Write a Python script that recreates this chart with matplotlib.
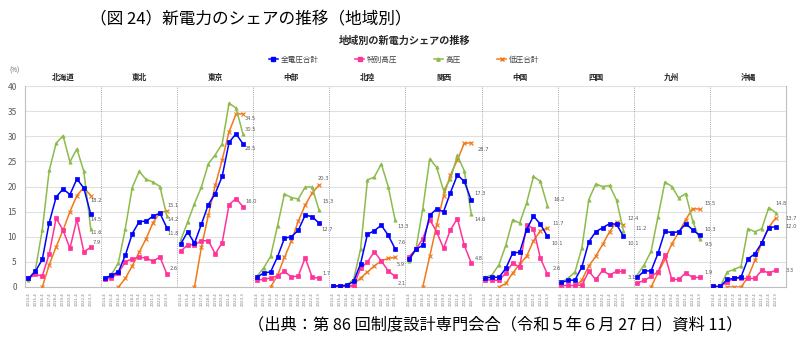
import numpy as np
import matplotlib
matplotlib.use("Agg")
import matplotlib.pyplot as plt
from matplotlib.lines import Line2D

plt.rcParams['font.family'] = ['Noto Sans CJK JP', 'DejaVu Sans']

nan = np.nan

regions = ['北海道', '東北', '東京', '中部', '北陸', '関西', '中国', '四国', '九州', '沖縄']
periods = ['2014.4', '2015.4', '2016.4', '2017.4', '2018.4',
           '2019.4', '2020.4', '2021.4', '2022.4', '2023.3']

series_names = ['全電圧合計', '特別高圧', '高圧', '低圧合計']

total = [
    [1.7, 3.1, 5.5, 12.8, 17.9, 19.5, 18.4, 21.5, 19.7, 14.5],
    [1.7, 2.3, 3.0, 6.3, 10.6, 13.0, 13.1, 14.1, 14.7, 11.8],
    [8.5, 11.0, 8.7, 12.5, 16.4, 18.6, 22.0, 28.8, 30.5, 28.5],
    [1.9, 2.8, 3.0, 6.0, 9.7, 10.0, 11.3, 14.3, 14.0, 12.7],
    [0.2, 0.2, 0.3, 1.1, 4.6, 10.5, 11.2, 12.3, 10.3, 7.6],
    [5.5, 7.5, 8.3, 14.3, 15.5, 15.0, 18.8, 22.3, 21.0, 17.3],
    [1.7, 2.0, 1.9, 3.7, 6.8, 6.9, 11.4, 14.1, 12.5, 10.1],
    [0.9, 1.3, 1.4, 4.0, 9.0, 11.0, 11.8, 12.6, 12.5, 10.1],
    [1.9, 3.2, 3.2, 6.7, 11.1, 10.8, 11.0, 12.6, 11.4, 10.3],
    [0.1, 0.1, 1.5, 1.7, 2.0, 5.6, 6.6, 8.8, 11.8, 12.0],
]

extra_high = [
    [1.7, 2.5, 2.2, 6.6, 13.7, 11.3, 7.7, 13.5, 7.0, 7.9],
    [1.5, 1.8, 2.8, 5.0, 5.6, 5.9, 5.8, 5.1, 6.0, 2.6],
    [7.1, 8.4, 8.4, 9.2, 9.2, 6.6, 8.8, 16.4, 17.6, 16.0],
    [1.4, 1.5, 1.8, 2.2, 3.1, 2.0, 2.2, 5.8, 2.0, 1.7],
    [0.1, 0.1, 0.1, 0.2, 3.7, 5.0, 7.0, 5.2, 3.2, 2.1],
    [6.0, 7.5, 9.6, 13.4, 11.0, 7.7, 11.4, 13.6, 8.3, 4.8],
    [1.4, 1.4, 1.3, 2.8, 4.8, 3.9, 12.4, 11.6, 5.7, 2.6],
    [0.3, 0.3, 0.3, 0.4, 3.1, 1.5, 3.3, 2.4, 3.1, 3.1],
    [0.8, 1.3, 2.1, 3.0, 6.3, 1.5, 1.5, 2.8, 1.9, 1.9],
    [0.1, 0.1, 1.0, 1.7, 1.7, 1.7, 1.7, 3.3, 2.8, 3.3],
]

high = [
    [1.4, 3.4, 11.4, 23.2, 28.6, 30.1, 24.9, 27.5, 23.0, 11.6],
    [1.5, 2.5, 4.8, 11.6, 19.8, 23.0, 21.4, 20.9, 20.0, 14.2],
    [9.3, 12.9, 16.6, 19.9, 24.5, 26.3, 28.5, 36.6, 35.6, 30.5],
    [2.1, 3.8, 6.1, 12.2, 18.5, 17.8, 17.5, 19.9, 19.9, 15.3],
    [0.2, 0.3, 0.4, 1.5, 7.5, 21.3, 21.9, 24.5, 20.0, 13.3],
    [5.1, 7.5, 15.6, 25.5, 23.8, 19.2, 21.5, 26.2, 23.1, 14.6],
    [1.9, 2.4, 4.4, 8.3, 13.4, 12.7, 16.7, 22.0, 21.0, 16.2],
    [1.0, 1.7, 3.0, 7.8, 17.4, 20.5, 20.0, 20.2, 17.3, 11.2],
    [2.4, 4.4, 7.1, 14.0, 20.9, 20.0, 17.7, 18.6, 13.2, 9.5],
    [0.1, 0.1, 3.0, 3.5, 4.1, 11.6, 11.0, 11.6, 15.8, 14.8],
]

low = [
    [nan, nan, 0.0, 4.4, 8.0, 11.3, 15.0, 18.2, 19.8, 18.2],
    [nan, nan, 0.0, 1.7, 4.2, 6.9, 9.6, 12.8, 14.8, 15.1],
    [nan, nan, 0.0, 7.9, 14.3, 20.2, 25.3, 30.9, 34.4, 34.5],
    [nan, nan, 0.0, 2.3, 5.9, 9.1, 13.1, 16.3, 18.7, 20.3],
    [nan, nan, 0.0, 0.5, 1.8, 3.0, 4.2, 5.2, 5.7, 5.9],
    [nan, nan, 0.0, 6.1, 12.3, 18.1, 22.3, 25.3, 28.6, 28.7],
    [nan, nan, 0.0, 0.7, 2.8, 4.5, 6.1, 9.2, 11.2, 11.7],
    [nan, nan, 0.0, 1.4, 4.2, 6.1, 8.5, 11.0, 12.9, 12.4],
    [nan, nan, 0.0, 2.8, 5.5, 8.6, 10.9, 13.4, 15.6, 15.5],
    [nan, nan, 0.0, 0.0, 0.0, 1.9, 5.3, 8.8, 11.9, 13.7],
]

# ---- styles ----
colors = ['#0000FF', '#FF3399', '#8DBB4C', '#F07A1B']
markers = ['s', 's', '^', 'x']
msizes = [3.0, 2.8, 2.4, 3.0]
# label offsets (px) for end-value labels: order total, extra_high, high, low
label_off = [
    [(0, -5), (2, 5), (0, -4), (0, -5)],
    [(1, -6), (3, 5), (1, -4), (1, 6)],
    [(2, -5), (2, 5), (2, 4), (2, -5)],
    [(2, -6), (3, 5), (3, 9), (-1, 6)],
    [(2, 6), (2, -7), (2, -6), (2, -7)],
    [(3, 7), (4, 4), (3, -6), (6, -7)],
    [(4, -7), (5, 5), (6, 6), (5, 5)],
    [(4, -7), (4, -6), (12, 2), (4, 6)],
    [(5, 6), (5, 5), (5, -5), (5, 6)],
    [(10, 0), (10, 0), (0, 9), (10, 0)],
]

W, H = 800, 344
fig = plt.figure(figsize=(W / 100, H / 100), dpi=100)
ax = fig.add_axes([25 / W, 1 - 287 / H, (786 - 25) / W, (287 - 86) / H])

slots = len(periods) + 1
all_series = [total, extra_high, high, low]
xticks, xlabels = [], []
for r, reg in enumerate(regions):
    xs = np.arange(len(periods)) + r * slots
    xticks.extend(xs)
    xlabels.extend(periods)
    for s, data in enumerate(all_series):
        vals = np.array(data[r], dtype=float)
        ax.plot(xs, vals, color=colors[s], marker=markers[s], markersize=msizes[s],
                lw=1.1, markeredgewidth=0.8 if markers[s] == 'x' else 0.5, zorder=3 + (3 - s) * 0.1)
        dx, dy = label_off[r][s]
        ax.annotate(f'{vals[-1]:.1f}', (xs[-1], vals[-1]), xytext=(dx * 0.72, dy * 0.72),
                    textcoords='offset points', fontsize=3.7, color='#595959',
                    ha='left', va='center', family='DejaVu Sans')
    if r > 0:
        ax.axvline(r * slots - 0.5, color='#A6A6A6', lw=0.7, ls=(0, (1, 1.2)), zorder=2)
    # region name
    ax.text(r * slots + (slots - 1) / 2, 1.0 + 9 / 201, reg, transform=ax.get_xaxis_transform(),
            ha='center', va='center', fontsize=5.5, fontweight='bold', color='#262626')

ax.set_xlim(-0.5, len(regions) * slots - 0.5)
ax.set_ylim(0, 40)
ax.set_yticks(np.arange(0, 41, 5))
ax.set_xticks(xticks)
ax.set_xticklabels(xlabels, rotation=90, fontsize=2.9, color='#7F7F7F', family='DejaVu Sans')
ax.tick_params(axis='x', length=0, pad=4)
ax.tick_params(axis='y', length=0, pad=6, labelsize=6, labelcolor='#595959')
ax.grid(axis='y', color='#E0E0E0', lw=0.8)
ax.set_axisbelow(True)
ax.spines['top'].set_visible(False)
for side in ['left', 'bottom', 'right']:
    ax.spines[side].set_color('#BFBFBF')
    ax.spines[side].set_linewidth(0.8)

fig.text(14 / W, 1 - 71 / H, '(%)', fontsize=4.5, color='#595959', ha='center', va='center')

fig.text(90 / W, 1 - 20 / H, '（図 24）新電力のシェアの推移（地域別）', fontsize=12,
         ha='left', va='center', color='black')
fig.text(405 / W, 1 - 41 / H, '地域別の新電力シェアの推移', fontsize=7.3, fontweight='bold',
         ha='center', va='center', color='#262626')

handles = [Line2D([], [], color=colors[s], marker=markers[s], markersize=msizes[s], lw=1.1)
           for s in range(4)]
fig.legend(handles, series_names, loc='center', bbox_to_anchor=(404 / W, 1 - 60 / H), ncol=4,
           frameon=False, fontsize=5.5, handlelength=1.2, handletextpad=0.3, columnspacing=4.8,
           labelcolor='#404040')

fig.text(248 / W, 1 - 325 / H, '（出典：第 86 回制度設計専門会合（令和５年６月 27 日）資料 11）',
         fontsize=11.7, ha='left', va='center', color='black')

fig.savefig('out.png', dpi=100)
